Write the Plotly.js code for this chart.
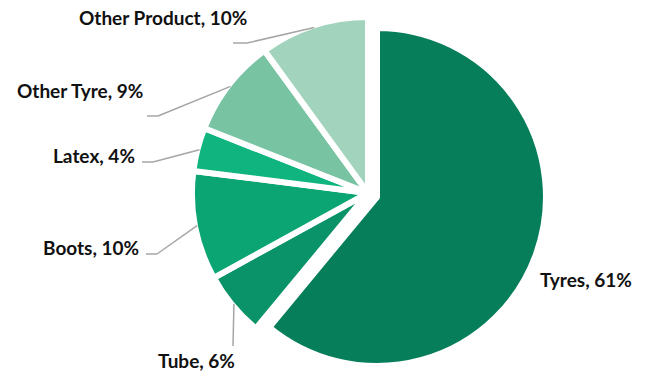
<!DOCTYPE html>
<html><head><meta charset="utf-8">
<script src="https://cdn.plot.ly/plotly-3.0.1.min.js"></script>
<style>html,body{margin:0;padding:0;background:#fff}#chart{width:645px;height:372px}</style>
</head><body><div id="chart"></div>
<script>
const categories = ['Tyres', 'Tube', 'Boots', 'Latex', 'Other Tyre', 'Other Product'];
const shares = [61, 6, 10, 4, 9, 10];
const colors = ['#077e5a', '#0a9268', '#0ba574', '#10b47f', '#77c3a2', '#a2d3bc'];
const pulledCategory = 'Tyres';

const W = 645, H = 372;
const borderW = 6;
const mainPie = {cx: 368, cy: 193, r: 173};
const pulledPie = {cx: 377, cy: 197, r: 166};

function dom(c) {
  const rp = c.r + borderW / 2;
  return {x: [(c.cx - rp) / W, (c.cx + rp) / W], y: [(H - c.cy - rp) / H, (H - c.cy + rp) / H]};
}
const total = shares.reduce((a, b) => a + b, 0);
let cum = 0;
const mids = shares.map(v => { const m = (cum + v / 2) / total * 360; cum += v; return m; });
const isPulled = categories.map(c => c === pulledCategory);
const clear = 'rgba(0,0,0,0)';

function pieTrace(geom, showPulled) {
  return {
    type: 'pie', values: shares, labels: categories, sort: false,
    direction: 'clockwise', rotation: 0, textinfo: 'none', hoverinfo: 'skip',
    showlegend: false, domain: dom(geom),
    marker: {
      colors: colors.map((c, i) => isPulled[i] === showPulled ? c : clear),
      line: {color: categories.map((c, i) => isPulled[i] === showPulled ? '#ffffff' : clear), width: borderW}
    }
  };
}

// label placement (pixels): anchor point of text, and leader elbow / end
const labelPlace = {
  'Tyres':         {x: 538, y: 279, xanchor: 'left'},
  'Tube':          {x: 196, y: 360, xanchor: 'center', elbow: [233, 346]},
  'Boots':         {x: 141, y: 247, xanchor: 'right', elbow: [157, 254], end: [146, 254]},
  'Latex':         {x: 137, y: 155, xanchor: 'right', elbow: [153, 162], end: [142, 162]},
  'Other Tyre':    {x: 145, y: 90,  xanchor: 'right', elbow: [158, 116], end: [147, 116]},
  'Other Product': {x: 249, y: 18,  xanchor: 'right', elbow: [247, 43],  end: [233, 43]}
};

const px = x => x / W, py = y => 1 - y / H;
const annotations = [], shapes = [];
const lineStyle = {color: '#a6a6a6', width: 1.5};
categories.forEach((cat, i) => {
  const p = labelPlace[cat];
  const pct = Math.round(shares[i] / total * 100);
  annotations.push({
    text: cat + ', ' + pct + '%', showarrow: false, xref: 'paper', yref: 'paper',
    x: px(p.x), y: py(p.y), xanchor: p.xanchor, yanchor: 'middle',
    font: {family: 'Lato, "Open Sans", sans-serif', size: 19, color: '#111111', weight: 'bold'}
  });
  if (p.elbow) {
    const g = isPulled[i] ? pulledPie : mainPie;
    const a = mids[i] * Math.PI / 180;
    const sx = g.cx + (g.r + 1) * Math.sin(a), sy = g.cy - (g.r + 1) * Math.cos(a);
    shapes.push({type: 'line', xref: 'paper', yref: 'paper', x0: px(sx), y0: py(sy), x1: px(p.elbow[0]), y1: py(p.elbow[1]), line: lineStyle});
    if (p.end) shapes.push({type: 'line', xref: 'paper', yref: 'paper', x0: px(p.elbow[0]), y0: py(p.elbow[1]), x1: px(p.end[0]), y1: py(p.end[1]), line: lineStyle});
  }
});

Plotly.newPlot('chart', [pieTrace(mainPie, false), pieTrace(pulledPie, true)], {
  width: W, height: H, margin: {l: 0, r: 0, t: 0, b: 0},
  paper_bgcolor: '#ffffff', plot_bgcolor: '#ffffff',
  annotations: annotations, shapes: shapes
}, {displayModeBar: false, staticPlot: true});
</script></body></html>
